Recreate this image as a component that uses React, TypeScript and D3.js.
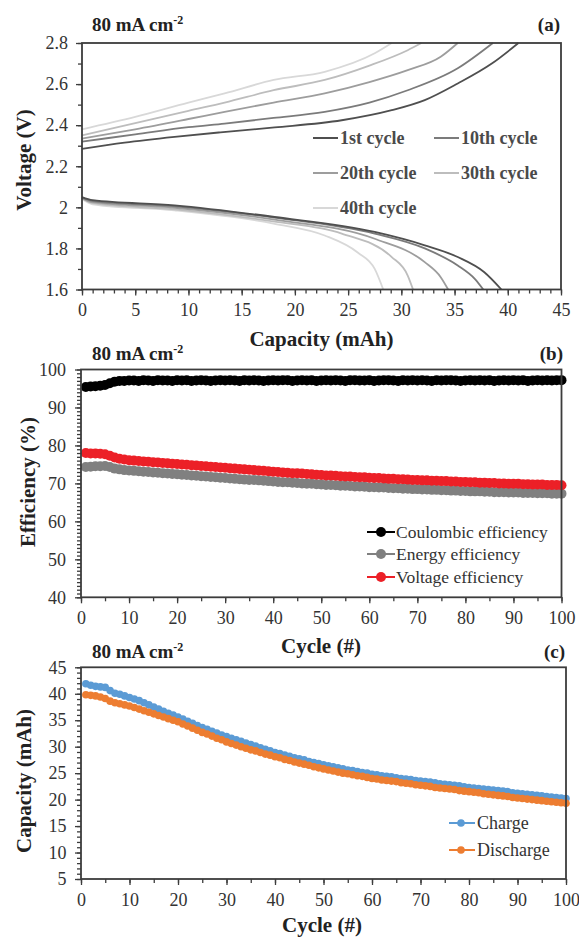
import React, { useEffect, useRef } from 'react';
import * as d3 from 'd3';

type Pt = [number, number];

// (a) voltage profiles: [capacity (mAh), voltage (V)]
const cycleLabels = ['1st cycle', '10th cycle', '20th cycle', '30th cycle', '40th cycle'];
const cycleColors = ['#4f4f4f', '#7b7b7b', '#9d9d9d', '#bdbdbd', '#d8d8d8'];

const charge1: Pt[] = [[0, 2.285], [4, 2.315], [8.7, 2.343], [13, 2.365], [18.1, 2.389], [24.4, 2.424], [29.1, 2.473], [32.2, 2.522], [35.3, 2.603], [38.5, 2.7], [41, 2.8]];
const charge10: Pt[] = [[0, 2.32], [5, 2.355], [10, 2.39], [13.4, 2.408], [18, 2.435], [22.8, 2.465], [27, 2.51], [30.6, 2.57], [35.3, 2.677], [38.6, 2.8]];
const charge20: Pt[] = [[0, 2.335], [5, 2.38], [10, 2.43], [13.4, 2.465], [18, 2.51], [22.8, 2.555], [27, 2.61], [30.6, 2.668], [33.7, 2.733], [35.3, 2.8]];
const charge30: Pt[] = [[0, 2.35], [5, 2.41], [10, 2.47], [13.4, 2.51], [18, 2.57], [22.8, 2.62], [27, 2.69], [30.6, 2.765], [31.9, 2.8]];
const charge40: Pt[] = [[0, 2.38], [5, 2.44], [10, 2.51], [13.4, 2.555], [18, 2.62], [22.8, 2.66], [27.5, 2.75], [29.1, 2.8]];

const discharge1: Pt[] = [[0, 2.05], [1, 2.035], [8.7, 2.01], [18.1, 1.953], [27.5, 1.88], [32.2, 1.815], [35.3, 1.758], [37.8, 1.684], [39.4, 1.6]];
const discharge10: Pt[] = [[0, 2.048], [1, 2.03], [8.7, 2.005], [18.1, 1.95], [27.5, 1.872], [32.2, 1.8], [35.3, 1.717], [36.9, 1.652], [37.7, 1.6]];
const discharge20: Pt[] = [[0, 2.045], [1, 2.025], [8.7, 1.998], [18.1, 1.94], [27.5, 1.847], [32.2, 1.733], [33.7, 1.66], [34.4, 1.6]];
const discharge30: Pt[] = [[0, 2.045], [1, 2.02], [8.7, 1.99], [18.1, 1.93], [24.4, 1.872], [29.1, 1.758], [30.6, 1.668], [31.1, 1.6]];
const discharge40: Pt[] = [[0, 2.04], [1, 2.015], [8.7, 1.985], [18.1, 1.92], [22.8, 1.863], [25.9, 1.78], [27.5, 1.7], [28.3, 1.6]];

const chargeCurves = [charge1, charge10, charge20, charge30, charge40];
const dischargeCurves = [discharge1, discharge10, discharge20, discharge30, discharge40];

// (b) efficiencies (%) per cycle 1..100
const coulombic = [
  95.4, 95.5, 95.6, 95.7, 95.9, 96.4, 96.8, 97.0, 97.0, 97.1,
  97.1, 97.0, 97.2, 97.1, 97.0, 97.2, 97.1, 97.1, 97.0, 97.2,
  97.1, 97.2, 97.0, 97.1, 97.2, 97.1, 97.0, 97.1, 97.2, 97.1,
  97.2, 97.1, 97.0, 97.2, 97.1, 97.2, 97.1, 97.0, 97.1, 97.2,
  97.1, 97.2, 97.2, 97.0, 97.1, 97.2, 97.1, 97.2, 97.0, 97.1,
  97.2, 97.1, 97.2, 97.1, 97.0, 97.2, 97.2, 97.1, 97.1, 97.2,
  97.0, 97.1, 97.2, 97.2, 97.1, 97.0, 97.2, 97.1, 97.2, 97.1,
  97.2, 97.1, 97.0, 97.2, 97.1, 97.2, 97.2, 97.1, 97.0, 97.1,
  97.2, 97.1, 97.2, 97.1, 97.2, 97.0, 97.1, 97.2, 97.1, 97.2,
  97.1, 97.2, 97.0, 97.1, 97.2, 97.1, 97.2, 97.1, 97.2, 97.2,
];
const energy = [
  74.3, 74.4, 74.5, 74.5, 74.6, 74.3, 73.9, 73.7, 73.5, 73.4,
  73.3, 73.2, 73.1, 73.0, 72.9, 72.8, 72.7, 72.6, 72.5, 72.4,
  72.3, 72.2, 72.1, 72.0, 71.9, 71.8, 71.7, 71.6, 71.5, 71.4,
  71.3, 71.2, 71.1, 71.0, 70.9, 70.9, 70.8, 70.7, 70.6, 70.5,
  70.4, 70.3, 70.3, 70.2, 70.1, 70.0, 69.9, 69.9, 69.8, 69.7,
  69.6, 69.6, 69.5, 69.4, 69.4, 69.3, 69.2, 69.2, 69.1, 69.0,
  69.0, 68.9, 68.9, 68.8, 68.7, 68.7, 68.6, 68.6, 68.5, 68.5,
  68.4, 68.4, 68.3, 68.3, 68.2, 68.2, 68.1, 68.1, 68.0, 68.0,
  67.9, 67.9, 67.9, 67.8, 67.8, 67.7, 67.7, 67.7, 67.6, 67.6,
  67.6, 67.5, 67.5, 67.5, 67.4, 67.4, 67.4, 67.3, 67.3, 67.3,
];
const voltage = [
  78.0, 77.9, 77.9, 77.8, 77.7, 77.3, 76.8, 76.5, 76.3, 76.1,
  76.0, 75.9, 75.8, 75.7, 75.6, 75.5, 75.4, 75.3, 75.2, 75.1,
  75.0, 74.9, 74.8, 74.7, 74.6, 74.5, 74.4, 74.3, 74.2, 74.1,
  74.0, 73.9, 73.8, 73.7, 73.6, 73.5, 73.4, 73.3, 73.2, 73.1,
  73.0, 72.9, 72.8, 72.7, 72.7, 72.6, 72.5, 72.4, 72.3, 72.2,
  72.1, 72.1, 72.0, 71.9, 71.8, 71.8, 71.7, 71.6, 71.6, 71.5,
  71.4, 71.4, 71.3, 71.2, 71.2, 71.1, 71.1, 71.0, 70.9, 70.9,
  70.8, 70.8, 70.7, 70.7, 70.6, 70.6, 70.5, 70.5, 70.4, 70.4,
  70.3, 70.3, 70.2, 70.2, 70.1, 70.1, 70.0, 70.0, 69.9, 69.9,
  69.9, 69.8, 69.8, 69.7, 69.7, 69.7, 69.6, 69.6, 69.6, 69.5,
];

// (c) capacity (mAh) per cycle 1..100
const chargeCap = [
  41.9, 41.6, 41.4, 41.3, 41.2, 40.6, 40.1, 39.9, 39.6, 39.3,
  39.0, 38.7, 38.3, 37.9, 37.5, 37.1, 36.7, 36.3, 36.0, 35.6,
  35.2, 34.8, 34.4, 34.0, 33.6, 33.3, 32.9, 32.6, 32.2, 31.9,
  31.6, 31.3, 31.0, 30.7, 30.4, 30.1, 29.8, 29.5, 29.2, 28.9,
  28.7, 28.4, 28.2, 27.9, 27.7, 27.5, 27.2, 27.0, 26.8, 26.6,
  26.4, 26.2, 26.0, 25.8, 25.6, 25.5, 25.3, 25.1, 25.0, 24.8,
  24.7, 24.5, 24.4, 24.3, 24.1, 24.0, 23.9, 23.8, 23.6, 23.5,
  23.4, 23.3, 23.2, 23.0, 22.9, 22.8, 22.7, 22.6, 22.4, 22.3,
  22.2, 22.1, 22.0, 21.9, 21.8, 21.7, 21.6, 21.5, 21.3, 21.2,
  21.1, 21.0, 20.9, 20.8, 20.7, 20.6, 20.5, 20.4, 20.3, 20.2,
];
const dischargeCap = [
  39.8, 39.7, 39.6, 39.4, 39.1, 38.6, 38.3, 38.1, 37.9, 37.7,
  37.4, 37.1, 36.8, 36.5, 36.2, 35.9, 35.6, 35.3, 35.0, 34.7,
  34.3, 33.9, 33.5, 33.1, 32.7, 32.4, 32.0, 31.6, 31.3, 30.9,
  30.6, 30.3, 30.0, 29.7, 29.4, 29.2, 28.9, 28.6, 28.4, 28.1,
  27.9, 27.6, 27.4, 27.1, 26.9, 26.7, 26.5, 26.2, 26.0, 25.8,
  25.6, 25.4, 25.2, 25.0, 24.9, 24.7, 24.5, 24.4, 24.2, 24.0,
  23.9, 23.7, 23.6, 23.5, 23.4, 23.2, 23.1, 23.0, 22.8, 22.7,
  22.6, 22.5, 22.3, 22.2, 22.1, 22.0, 21.9, 21.7, 21.6, 21.5,
  21.4, 21.3, 21.1, 21.0, 20.9, 20.8, 20.7, 20.6, 20.4, 20.3,
  20.2, 20.1, 20.0, 19.9, 19.8, 19.7, 19.6, 19.5, 19.4, 19.3,
];

const effLabels = ['Coulombic efficiency', 'Energy efficiency', 'Voltage efficiency'];
const effColors = ['#000000', '#808080', '#ec2027'];
const capLabels = ['Charge', 'Discharge'];
const capColors = ['#5b9bd5', '#ed7d31'];

const FONT = "'Liberation Serif', Tinos, 'Times New Roman', 'DejaVu Serif', serif";

const App: React.FC = () => {
  const svgRef = useRef<SVGSVGElement>(null);

  useEffect(() => {
    const svg = d3.select(svgRef.current);
    svg.selectAll('*').remove();
    svg.append('rect').attr('width', 579).attr('height', 937).attr('fill', '#fff');

    const axisColor = '#3c3c3c';

    // frame, ticks and tick labels for one panel
    const drawAxes = (
      x: d3.ScaleLinear<number, number>,
      y: d3.ScaleLinear<number, number>,
      xMajor: number[], xMinor: number[],
      yMajor: number[], yMinor: number[],
      yFmt: (d: number) => string,
      xLabelY: number, yLabelRight: number,
    ) => {
      const [x0, x1] = x.range();
      const [y0, y1] = y.range();
      const style = (g: any) => {
        g.attr('font-family', null);
        g.select('.domain').remove();
        g.selectAll('line').attr('stroke', axisColor).attr('stroke-width', 1.3);
        g.selectAll('text').style('font-family', FONT).style('font-size', '18px').attr('fill', '#333');
      };
      svg.append('g').attr('transform', `translate(0,${y0})`)
        .call(d3.axisBottom(x).tickValues(xMinor).tickSize(4).tickFormat(() => ''))
        .call(style);
      svg.append('g').attr('transform', `translate(0,${y0})`)
        .call(d3.axisBottom(x).tickValues(xMajor).tickSize(6).tickFormat(d3.format('d')))
        .call(style)
        .selectAll('text').attr('y', xLabelY - y0).attr('dy', 0);
      svg.append('g').attr('transform', `translate(${x0},0)`)
        .call(d3.axisLeft(y).tickValues(yMinor).tickSize(4).tickFormat(() => ''))
        .call(style);
      svg.append('g').attr('transform', `translate(${x0},0)`)
        .call(d3.axisLeft(y).tickValues(yMajor).tickSize(6).tickFormat((d: any) => yFmt(+d)))
        .call(style)
        .selectAll('text').attr('x', yLabelRight - x0);
      svg.append('rect')
        .attr('x', x0).attr('y', y1).attr('width', x1 - x0).attr('height', y0 - y1)
        .attr('fill', 'none').attr('stroke', axisColor).attr('stroke-width', 1.8);
    };

    const txt = (sel: any, size: number, bold: boolean, fill: string) =>
      sel.style('font-family', FONT).style('font-size', `${size}px`)
        .style('font-weight', bold ? 'bold' : 'normal').attr('fill', fill);

    const heading = (yBase: number, tag: string, right: number) => {
      const t = svg.append('text').attr('x', 92).attr('y', yBase);
      txt(t, 19, true, '#222');
      t.append('tspan').text('80 mA cm');
      t.append('tspan').attr('dy', -7).style('font-size', '12px').text('-2');
      txt(svg.append('text').attr('x', right).attr('y', yBase).attr('text-anchor', 'end'), 19, true, '#222')
        .text(tag);
    };

    const xTitle = (text: string, cx: number, yBase: number) => {
      txt(svg.append('text').attr('x', cx).attr('y', yBase).attr('text-anchor', 'middle'), 21, true, '#222')
        .text(text);
    };
    const yTitle = (text: string, xBase: number, cy: number) => {
      txt(svg.append('text').attr('transform', `translate(${xBase},${cy}) rotate(-90)`).attr('text-anchor', 'middle'),
        21, true, '#222').text(text);
    };

    // ---------- (a) ----------
    const xa = d3.scaleLinear().domain([0, 45]).range([82, 561]);
    const ya = d3.scaleLinear().domain([1.6, 2.8]).range([289.5, 43]);
    const line = d3.line<Pt>().x(d => xa(d[0])).y(d => ya(d[1])).curve(d3.curveMonotoneX);

    [...chargeCurves.map((c, i) => ({ c, i })), ...dischargeCurves.map((c, i) => ({ c, i }))]
      .sort((a, b) => b.i - a.i)
      .forEach(({ c, i }) => {
        svg.append('path').datum(c).attr('fill', 'none')
          .attr('stroke', cycleColors[i]).attr('stroke-width', 1.8).attr('d', line);
      });

    drawAxes(xa, ya, d3.range(0, 46, 5), d3.range(0, 46, 1),
      [1.6, 1.8, 2, 2.2, 2.4, 2.6, 2.8], d3.range(16, 29).map(v => v / 10),
      d => String(+d.toFixed(1)), 316, 68);
    heading(31, '(a)', 560);
    xTitle('Capacity (mAh)', 321.5, 346);
    yTitle('Voltage (V)', 31, 160);

    const legACols = [313, 434];
    const legARows = [138, 173, 208];
    cycleLabels.forEach((lab, i) => {
      const lx = legACols[i % 2];
      const ly = legARows[Math.floor(i / 2)];
      svg.append('line').attr('x1', lx).attr('x2', lx + 25).attr('y1', ly).attr('y2', ly)
        .attr('stroke', cycleColors[i]).attr('stroke-width', 2);
      txt(svg.append('text').attr('x', lx + 27).attr('y', ly).attr('dy', '0.35em'), 18, true, '#4a4a4a')
        .text(lab);
    });

    // ---------- (b) ----------
    const xb = d3.scaleLinear().domain([0, 100]).range([81, 561.5]);
    const yb = d3.scaleLinear().domain([40, 100]).range([597.3, 369.5]);
    const effSeries = [coulombic, energy, voltage];
    effSeries.forEach((s, k) => {
      const pts: Pt[] = s.map((v, i) => [i + 1, v]);
      svg.append('path').datum(pts).attr('fill', 'none').attr('stroke', effColors[k]).attr('stroke-width', 1.5)
        .attr('d', d3.line<Pt>().x(d => xb(d[0])).y(d => yb(d[1])));
      svg.append('g').selectAll('circle').data(pts).join('circle')
        .attr('cx', d => xb(d[0])).attr('cy', d => yb(d[1])).attr('r', 5).attr('fill', effColors[k]);
    });
    drawAxes(xb, yb, d3.range(0, 101, 10), d3.range(0, 101, 5),
      d3.range(40, 101, 10), d3.range(40, 101, 1), d => String(d), 624, 66);
    heading(360, '(b)', 563);
    xTitle('Cycle (#)', 321, 653);
    yTitle('Efficiency (%)', 35, 482);

    const legBRows = [532, 554, 577];
    effLabels.forEach((lab, k) => {
      const ly = legBRows[k];
      svg.append('line').attr('x1', 367).attr('x2', 395).attr('y1', ly).attr('y2', ly)
        .attr('stroke', effColors[k]).attr('stroke-width', 2);
      svg.append('circle').attr('cx', 381).attr('cy', ly).attr('r', 5).attr('fill', effColors[k]);
      txt(svg.append('text').attr('x', 396).attr('y', ly).attr('dy', '0.35em'), 17.5, false, '#333').text(lab);
    });

    // ---------- (c) ----------
    const xc = d3.scaleLinear().domain([0, 100]).range([81, 566]);
    const yc = d3.scaleLinear().domain([5, 45]).range([879, 667.3]);
    [chargeCap, dischargeCap].forEach((s, k) => {
      const pts: Pt[] = s.map((v, i) => [i + 1, v]);
      svg.append('path').datum(pts).attr('fill', 'none').attr('stroke', capColors[k]).attr('stroke-width', 1.5)
        .attr('d', d3.line<Pt>().x(d => xc(d[0])).y(d => yc(d[1])));
      svg.append('g').selectAll('circle').data(pts).join('circle')
        .attr('cx', d => xc(d[0])).attr('cy', d => yc(d[1])).attr('r', 3.8).attr('fill', capColors[k]);
    });
    drawAxes(xc, yc, d3.range(0, 101, 10), d3.range(0, 101, 5),
      d3.range(5, 46, 5), d3.range(5, 46, 1), d => String(d), 906, 66.5);
    heading(658, '(c)', 565);
    xTitle('Cycle (#)', 322, 932);
    yTitle('Capacity (mAh)', 31, 781);

    const legCRows = [823, 850];
    capLabels.forEach((lab, k) => {
      const ly = legCRows[k];
      svg.append('line').attr('x1', 449).attr('x2', 475).attr('y1', ly).attr('y2', ly)
        .attr('stroke', capColors[k]).attr('stroke-width', 2);
      svg.append('circle').attr('cx', 461).attr('cy', ly).attr('r', 3.8).attr('fill', capColors[k]);
      txt(svg.append('text').attr('x', 477).attr('y', ly).attr('dy', '0.35em'), 18, false, '#333').text(lab);
    });
  }, []);

  return (
    <svg ref={svgRef} width={579} height={937}
      style={{ position: 'absolute', left: 0, top: 0, display: 'block' }} />
  );
};

export default App;
